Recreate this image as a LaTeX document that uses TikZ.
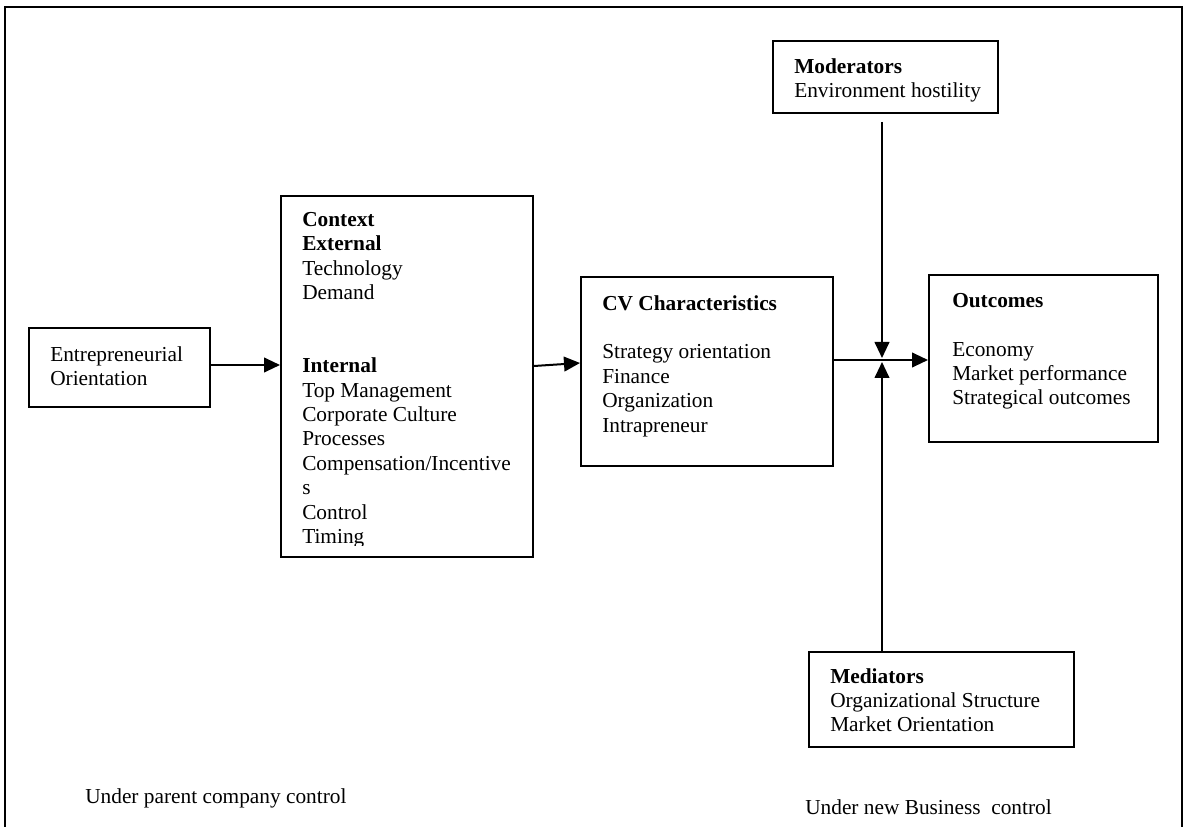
\documentclass[tikz,border=0pt]{standalone}
\usepackage{fontspec}
\setmainfont{Liberation Serif}
\usetikzlibrary{arrows.meta,fit}
\begin{document}
\begin{tikzpicture}[x=0.75pt,y=-0.75pt,
  box/.style={draw, line width=1.5pt, inner sep=0pt},
  txt/.style={anchor=north west, align=left, inner sep=0pt, font=\fontsize{16}{18.3}\selectfont},
  lbl/.style={anchor=west, inner sep=0pt, font=\fontsize{16}{18.3}\selectfont},
  arr/.style={line width=1.5pt, -{Triangle[length=12pt,width=11pt]}},
  frame/.style={line width=1.5pt}]
\useasboundingbox (0,0) rectangle (1186,827);
% outer frame (open at the bottom)
\draw[frame] (5,827) -- (5,7) -- (1182,7) -- (1182,827);

% boxes
\node[box, fit={(29,328)(210,407)}] (eo) {};
\node[box, fit={(281,196)(533,557)}] (ctx) {};
\node[box, fit={(581,277)(833,466)}] (cv) {};
\node[box, fit={(929,275)(1158,442)}] (out) {};
\node[box, fit={(773,41)(998,113)}] (mod) {};
\node[box, fit={(809,652)(1074,747)}] (med) {};

% texts
\node[txt] (eotext) at (50,346) {Entrepreneurial\\Orientation};
\begin{scope}
\clip (281,196) rectangle (533,545);
\node[txt] (ctxtext) at (302,212) {\textbf{Context}\\\textbf{External}\\Technology\\Demand\\[36.6pt]\textbf{Internal}\\Top Management\\Corporate Culture\\Processes\\Compensation/Incentive\\s\\Control\\Timing};
\end{scope}
\node[txt] (cvtext) at (602,295) {\textbf{CV Characteristics}\\[18.3pt]Strategy orientation\\Finance\\Organization\\Intrapreneur};
\node[txt] (outtext) at (952,293) {\textbf{Outcomes}\\[18.3pt]Economy\\Market performance\\Strategical outcomes};
\node[txt] (modtext) at (794,58) {\textbf{Moderators}\\Environment hostility};
\node[txt] (medtext) at (830,668) {\textbf{Mediators}\\Organizational Structure\\Market Orientation};

\node[lbl] (parent) at (85,798) {Under parent company control};
\node[lbl] (newbiz) at (805,807) {Under new Business\ \ control};

% connectors
\coordinate (modout) at (882,122);
\coordinate (jtop) at (882,358);
\coordinate (jbot) at (882,362);
\draw[arr] (eo.east |- 0,365) -- (ctx.west |- 0,365);
\draw[arr] (ctx.east |- 0,366) -- (cv.west |- 0,363);
\draw[arr] (cv.east |- 0,360) -- (out.west |- 0,360);
\draw[arr] (modout) -- (jtop);
\draw[arr] (jbot |- med.north) -- (jbot);
\end{tikzpicture}
\end{document}
